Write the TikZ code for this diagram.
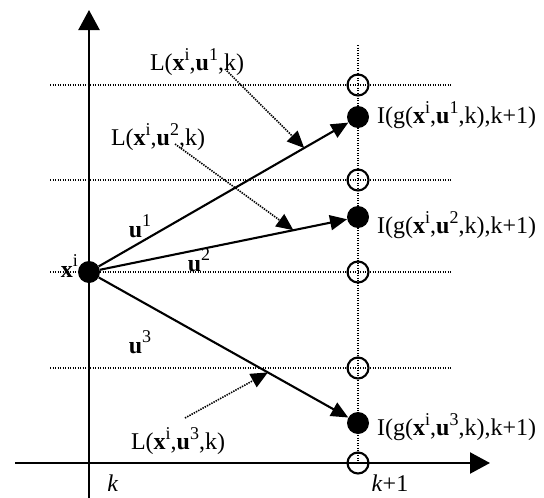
\documentclass[tikz,border=0pt]{standalone}
\usepackage{fontspec}
\setmainfont{Liberation Serif}
\usetikzlibrary{arrows.meta,calc}
\newcommand{\supr}[1]{\raisebox{0.42em}{\fontsize{18}{18}\selectfont #1}}
\newcommand{\sx}[1]{\textbf{x}\supr{#1}}
\newcommand{\su}[1]{\textbf{u}\supr{#1}}
\begin{document}
\begin{tikzpicture}[x=1pt,y=-1pt,
 axis/.style={line width=2.3pt,-{Triangle[length=20pt,width=21pt]}},
 gridline/.style={line width=1.6pt,dash pattern=on 1.4pt off 1.1pt},
 vec/.style={line width=2.1pt,-{Triangle[length=17pt,width=15pt]}},
 ptr/.style={line width=1.6pt,dash pattern=on 1.4pt off 1.1pt,-{Triangle[length=17pt,width=15pt]}},
 opendot/.style={circle,draw,line width=2.1pt,minimum size=21pt,inner sep=0pt},
 fulldot/.style={circle,fill,minimum size=22pt,inner sep=0pt},
 lbl/.style={font=\fontsize{24}{26}\selectfont,inner sep=0pt},
]
\useasboundingbox (0,0) rectangle (544,498);
% grid
\foreach \y in {85,180,272,368} \draw[gridline] (50,\y) -- (452,\y);
\draw[gridline] (358,45) -- (358,463);
% axes
\draw[axis] (89,498) -- (89,10);
\draw[axis] (15,463) -- (490,463);
% open circles
\node[opendot] (o1) at (358,85) {};
\node[opendot] (o2) at (358,180) {};
\node[opendot] (o3) at (358,272) {};
\node[opendot] (o4) at (358,368) {};
\node[opendot] (o5) at (358,463) {};
% filled dots
\node[fulldot] (xi) at (89,272) {};
\node[fulldot] (d1) at (358,117) {};
\node[fulldot] (d2) at (358,217) {};
\node[fulldot] (d3) at (358,423) {};
% vectors
\draw[vec] (xi) -- (d1);
\draw[vec] (xi) -- (d2);
\draw[vec] (xi) -- (d3);
% labels
\node[lbl,anchor=base east] (xl) at (78,277) {\sx{i}};
\node[lbl,anchor=base] (u1) at (140,237) {\su{1}};
\node[lbl,anchor=base] (u2) at (199,271) {\su{2}};
\node[lbl,anchor=base] (u3) at (140,353) {\su{3}};
\node[lbl,anchor=base] (k) at (113,491) {\textit{k}};
\node[lbl,anchor=base] (k1) at (390,491) {\textit{k}+1};
\node[lbl,anchor=west] (i1) at (377,115) {I(g(\sx{i},\su{1},k),k+1)};
\node[lbl,anchor=west] (i2) at (377,225) {I(g(\sx{i},\su{2},k),k+1)};
\node[lbl,anchor=west] (i3) at (377,427) {I(g(\sx{i},\su{3},k),k+1)};
\node[lbl] (l1) at (197,62) {L(\sx{i},\su{1},k)};
\node[lbl] (l2) at (158,137) {L(\sx{i},\su{2},k)};
\node[lbl] (l3) at (178,441) {L(\sx{i},\su{3},k)};
% pointer arrows
\coordinate (t1) at ($(xi)!0.80!(d1)$);
\coordinate (t2) at ($(xi)!0.76!(d2)$);
\coordinate (t3) at ($(xi)!0.665!(d3)$);
\draw[ptr] (225,69) -- (t1);
\draw[ptr] (175,144) -- (t2);
\draw[ptr] (185,418) -- (t3);
\end{tikzpicture}
\end{document}
